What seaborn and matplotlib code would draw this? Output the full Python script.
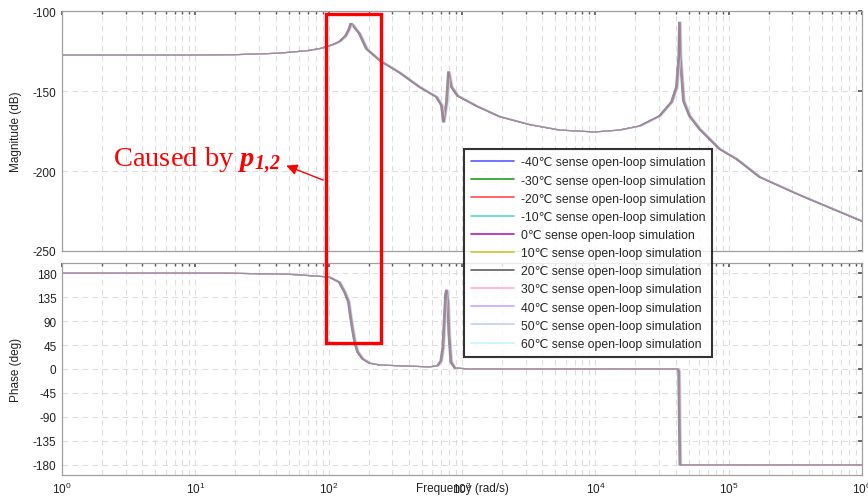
import numpy as np
import pandas as pd
import matplotlib
matplotlib.use("Agg")
import matplotlib.pyplot as plt
import seaborn as sns
from matplotlib.lines import Line2D
from matplotlib.patches import Rectangle
from matplotlib.ticker import LogLocator, FixedLocator, NullFormatter

# ---------------- data ----------------
temps = [-40, -30, -20, -10, 0, 10, 20, 30, 40, 50, 60]
series_colors = ["#5a5aff", "#20a020", "#ff4a4a", "#5cd6d6", "#b020b0", "#c8c832",
                 "#606060", "#ffb0cc", "#c8a8ff", "#c0cff0", "#c8f0ff"]
# small per-temperature shift of the curves (resonance spread, read visually)
freq_scale = [0.975, 0.98, 0.985, 0.99, 0.995, 1.0, 1.005, 1.01, 1.015, 1.02, 1.025]

mag_freq = [1, 5, 10, 20, 42, 70, 89, 110, 122, 135, 143, 148, 152, 160, 171, 194, 247,
            343, 484, 649, 708, 733, 772, 799, 841, 933, 1296, 1928, 3236, 5433, 9943,
            15311, 21630, 30550, 37580, 40990, 42700, 43150, 43700, 46240, 51290, 60950,
            86100, 115500, 171800, 342700, 1000000, 1100000]
mag_db = [-127.5, -127.5, -127.5, -127.3, -126.4, -124.8, -123.3, -120.8, -119.0, -115.5,
          -111.5, -107.8, -108.5, -111.0, -114.0, -123.75, -131.3,
          -138.5, -147.5, -153.75, -159.0, -169.4, -157.0, -138.0, -147.5, -153.0, -159.4,
          -166.0, -171.0, -174.4, -175.6,
          -174.4, -171.9, -165.6, -156.9, -147.5, -128.0, -107.0, -128.0, -156.25, -165.6,
          -173.75, -186.25, -192.5, -203.75, -215.0, -231.25, -233.0]

phase_freq = [1, 16, 50, 86, 102, 121, 133, 142, 147, 152, 158, 166, 181, 204, 243, 343,
              575, 660, 700, 725, 760, 772, 790, 805, 833, 889, 1150, 42000, 42600, 43000,
              43500, 1100000]
phase_deg = [180, 180, 178, 174, 172.5, 163, 144, 126, 99, 75, 51, 32, 19, 11, 7.5, 6,
             4, 6, 15, 40, 140, 148, 125, 65, 13, 2, 0, 0, -5, -90, -180, -180]

mag_ticks = [-250, -200, -150, -100]
phase_ticks = [-180, -135, -90, -45, 0, 45, 90, 135, 180]
labels = [f"{t}\u2103 sense open-loop simulation" for t in temps]
# drawing order (overlapping traces), legend order stays as above
draw_order = [0, 1, 2, 3, 4, 5, 9, 10, 8, 7, 6]

# ---------------- style ----------------
sns.set_theme(style="white")
plt.rcParams["font.family"] = ["Liberation Sans", "DejaVu Sans"]
plt.rcParams["axes.unicode_minus"] = False
plt.rcParams["mathtext.fontset"] = "custom"
plt.rcParams["mathtext.rm"] = "Liberation Sans"
plt.rcParams["mathtext.it"] = "Liberation Serif:italic:bold"
plt.rcParams["mathtext.bf"] = "Liberation Serif:italic:bold"

mag_rows, ph_rows = [], []
for i in draw_order:
    lab, s = labels[i], freq_scale[i]
    for f, m in zip(mag_freq, mag_db):
        mag_rows.append(dict(series=lab, freq=f * s, mag=m))
    for f, p in zip(phase_freq, phase_deg):
        ph_rows.append(dict(series=lab, freq=f * s, phase=p))
df_mag = pd.DataFrame(mag_rows)
df_ph = pd.DataFrame(ph_rows)
palette = dict(zip(labels, series_colors))
hue_order = [labels[i] for i in draw_order]

W, H = 868, 502
fig = plt.figure(figsize=(W / 100, H / 100), dpi=100)
fig.patch.set_facecolor("white")
ax1 = fig.add_axes([62 / W, 1 - 252 / H, 800 / W, 240 / H])
ax2 = fig.add_axes([62 / W, 1 - 476 / H, 800 / W, 212 / H])

sns.lineplot(data=df_mag, x="freq", y="mag", hue="series", hue_order=hue_order,
             palette=palette, ax=ax1, legend=False, estimator=None, sort=False,
             lw=0.8, alpha=0.5)
sns.lineplot(data=df_ph, x="freq", y="phase", hue="series", hue_order=hue_order,
             palette=palette, ax=ax2, legend=False, estimator=None, sort=False,
             lw=0.8, alpha=0.5)

spine_col = "#a0a0a0"
grid_kw = dict(color="#dedede", linestyle=(0, (5, 4)), linewidth=0.8)
for ax, ticks, lim in [(ax1, mag_ticks, (-250, -100)), (ax2, phase_ticks, (-199, 199))]:
    ax.set_xscale("log")
    ax.set_xlim(1, 1e6)
    ax.set_ylim(*lim)
    ax.yaxis.set_major_locator(FixedLocator(ticks))
    ax.xaxis.set_major_locator(LogLocator(base=10, numticks=10))
    ax.xaxis.set_minor_locator(LogLocator(base=10, subs=np.arange(2, 10), numticks=20))
    ax.xaxis.set_minor_formatter(NullFormatter())
    ax.grid(True, which="major", axis="both", **grid_kw)
    ax.grid(True, which="minor", axis="x", **grid_kw)
    ax.set_axisbelow(True)
    for sp in ax.spines.values():
        sp.set_color(spine_col)
        sp.set_linewidth(0.9)
    ax.tick_params(which="both", direction="in", top=True, right=True,
                   color="#555555", labelcolor="#222222", labelsize=8.5, pad=4)
    ax.tick_params(which="major", length=3)
    ax.tick_params(which="minor", length=2)
    ax.set_facecolor("white")

ax1.tick_params(axis="x", labelbottom=False)
ax1.set_xlabel("")
ax1.set_ylabel("Magnitude (dB)", fontsize=8.5, color="#222222")
ax2.set_ylabel("Phase (deg)", fontsize=8.5, color="#222222")
ax2.set_xlabel("Frequency (rad/s)", fontsize=8.5, color="#222222")
ax1.yaxis.set_label_coords(-0.05, 0.5)
ax2.yaxis.set_label_coords(-0.05, 0.5)
ax2.xaxis.set_label_coords(0.5, -0.035)

# legend spanning both panels
handles = [Line2D([0], [0], color=c, lw=1.2) for c in series_colors]
leg = fig.legend(handles, labels, loc="upper left",
                 bbox_to_anchor=(464 / W, 1 - 150 / H), borderaxespad=0,
                 fontsize=8.85, frameon=True, fancybox=False, handlelength=3.5,
                 handletextpad=0.5, labelspacing=0.5, borderpad=0.6)
leg.get_frame().set_edgecolor("black")
leg.get_frame().set_linewidth(1.5)
leg.set_zorder(10)

# red highlight box spanning both panels
inv = fig.transFigure.inverted()
p_top = inv.transform(ax1.transData.transform((95, -101.9)))
p_bot = inv.transform(ax2.transData.transform((247, 48.75)))
rect = Rectangle((p_top[0], p_bot[1]), p_bot[0] - p_top[0], p_top[1] - p_bot[1],
                 transform=fig.transFigure, fill=False, edgecolor="red", lw=2.4, zorder=9)
fig.add_artist(rect)

ax1.annotate("", xy=(46, -196.0), xytext=(95, -206.3), xycoords="data",
             arrowprops=dict(arrowstyle="-|>", color="red", lw=1.0, mutation_scale=16))
ax1.text(2.41, -196.9, r"Caused by $\mathbf{p}_{\mathbf{1{,}2}}$", color="red",
         fontsize=20.5, family="Liberation Serif", va="baseline", ha="left")

fig.savefig("out.png", dpi=100, facecolor="white")
